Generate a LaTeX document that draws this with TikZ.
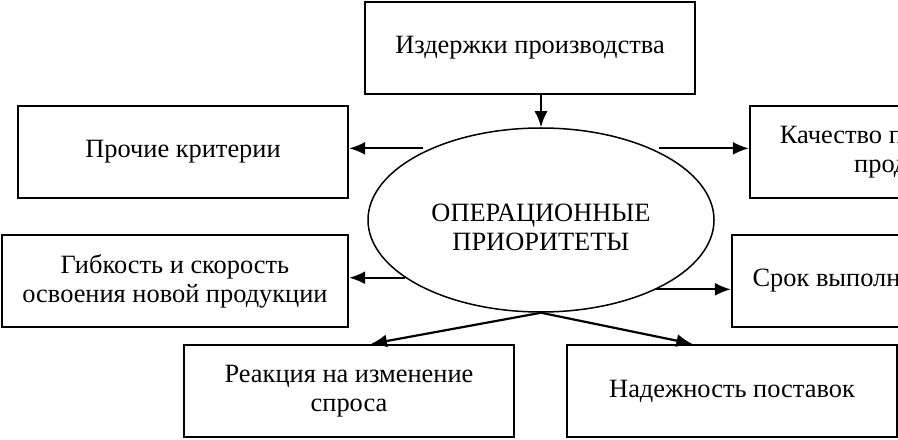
\documentclass[tikz,border=0pt]{standalone}
\usepackage{fontspec}
\setmainfont{Liberation Serif}
\usetikzlibrary{shapes.geometric,arrows.meta}
\begin{document}
\begin{tikzpicture}[x=0.5pt,y=0.5pt]
      % Define styles for nodes
      \tikzstyle{criterion} = [draw, rectangle, line width=1.1pt,
      minimum width=165pt, minimum height=46pt, align=center,
      font=\fontsize{13.2}{14.5}\selectfont]
      \tikzstyle{priority} = [draw, ellipse, line width=0.75pt,
      minimum width=173pt, minimum height=92pt, inner sep=0pt]
      \tikzstyle{caption} = [align=center, font=\fontsize{13.2}{14.5}\selectfont]
      \tikzstyle{link} = [line width=1.1pt, -{Latex[length=8pt,width=6.5pt]}]

      % Picture frame
      \useasboundingbox (0,0) rectangle (898,439);
      \clip (0,0) rectangle (898,439);

      % Operational priorities in the middle
      \node[priority] (prio) at (541,219) {};
      \node[caption] (prioText) at (541,212) {ОПЕРАЦИОННЫЕ\\ПРИОРИТЕТЫ};

      % Boxes at top, left and right
      \node[criterion] (costs) at (530,391) {Издержки производства};
      \node[criterion] (other) at (183,287) {Прочие критерии};
      \node[criterion, minimum width=173pt] (flex) at (175,158)
      {Гибкость и скорость\\освоения новой продукции};
      \node[criterion] (quality) at (915,287) {Качество производимой\\продукции};
      \node[criterion] (term) at (897,158) {Срок выполнения заказов};

      % Boxes at bottom
      \node[criterion] (response) at (349,48) {Реакция на изменение\\спроса};
      \node[criterion] (reliability) at (732,48) {Надежность поставок};

      % Connections
      \draw[link] (prio.north |- costs.south) -- (prio.north);
      \draw[link, shorten <=4pt] (prio.147) -- (prio.147 -| other.east);
      \draw[link] (prio.203) -- (prio.203 -| flex.east);
      \draw[link, shorten <=4pt] (prio.33) -- (prio.33 -| quality.west);
      \draw[link] (prio.329) -- (prio.329 -| term.west);
      \draw[link] (prio.south) -- (response.65);
      \draw[link] (prio.south) -- (reliability.130);
\end{tikzpicture}
\end{document}
